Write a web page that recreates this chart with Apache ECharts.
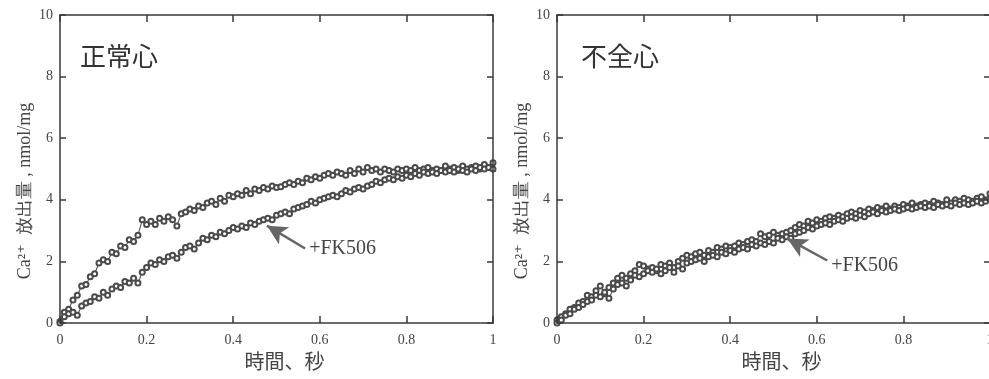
<!DOCTYPE html>
<html><head><meta charset="utf-8">
<script src="https://cdn.jsdelivr.net/npm/echarts@6/dist/echarts.min.js"></script>
<style>html,body{margin:0;padding:0;background:#fff}#c{width:989px;height:379px}</style>
</head><body><div id="c"></div>
<script>
// Time (s)
var times = [0,0.01,0.02,0.03,0.04,0.05,0.06,0.07,0.08,0.09,0.10,0.11,0.12,0.13,0.14,0.15,0.16,0.17,0.18,0.19,0.20,0.21,0.22,0.23,0.24,0.25,0.26,0.27,0.28,0.29,0.30,0.31,0.32,0.33,0.34,0.35,0.36,0.37,0.38,0.39,0.40,0.41,0.42,0.43,0.44,0.45,0.46,0.47,0.48,0.49,0.50,0.51,0.52,0.53,0.54,0.55,0.56,0.57,0.58,0.59,0.60,0.61,0.62,0.63,0.64,0.65,0.66,0.67,0.68,0.69,0.70,0.71,0.72,0.73,0.74,0.75,0.76,0.77,0.78,0.79,0.80,0.81,0.82,0.83,0.84,0.85,0.86,0.87,0.88,0.89,0.90,0.91,0.92,0.93,0.94,0.95,0.96,0.97,0.98,0.99,1.00];

// 正常心 control
var normalControl = [0.05,0.35,0.45,0.75,0.9,1.2,1.25,1.5,1.6,1.95,2.05,2.0,2.3,2.25,2.5,2.45,2.7,2.65,2.85,3.35,3.2,3.3,3.2,3.4,3.3,3.45,3.35,3.15,3.55,3.6,3.7,3.65,3.8,3.75,3.9,3.95,3.85,4.05,3.95,4.15,4.1,4.2,4.15,4.3,4.2,4.35,4.3,4.4,4.35,4.45,4.4,4.42,4.5,4.55,4.5,4.6,4.55,4.7,4.65,4.75,4.7,4.8,4.85,4.8,4.9,4.85,4.8,4.95,4.85,5.0,4.9,5.05,4.95,5.0,4.9,5.0,4.95,4.9,5.0,4.95,5.0,4.95,5.05,4.95,5.0,5.05,4.95,5.0,4.95,5.1,5.0,5.05,4.95,5.1,5.0,5.05,5.1,5.0,5.15,5.05,5.2];
// 正常心 +FK506
var normalFK506 = [0.0,0.2,0.3,0.35,0.25,0.55,0.65,0.7,0.85,0.8,1.0,0.9,1.1,1.2,1.15,1.35,1.3,1.45,1.3,1.65,1.8,1.95,1.9,2.05,2.0,2.15,2.2,2.1,2.3,2.45,2.5,2.4,2.6,2.75,2.7,2.85,2.8,2.95,2.9,3.0,3.1,3.05,3.15,3.1,3.25,3.2,3.3,3.35,3.4,3.35,3.5,3.55,3.6,3.55,3.7,3.75,3.8,3.85,3.95,3.9,4.0,4.05,4.1,4.15,4.1,4.2,4.3,4.25,4.35,4.4,4.35,4.45,4.5,4.6,4.55,4.65,4.7,4.65,4.75,4.7,4.8,4.75,4.85,4.8,4.9,4.85,4.9,4.85,4.95,4.9,4.95,4.9,5.0,4.95,4.9,5.0,4.95,5.05,5.0,5.05,5.0];
// 不全心 control
var failingControl = [0.1,0.2,0.3,0.45,0.5,0.65,0.7,0.9,0.85,1.05,1.2,0.95,1.15,1.3,1.45,1.55,1.45,1.6,1.7,1.9,1.85,1.75,1.8,1.7,1.9,1.85,1.95,1.8,2.0,2.1,2.2,2.15,2.25,2.3,2.2,2.35,2.3,2.45,2.4,2.5,2.45,2.5,2.6,2.55,2.65,2.7,2.65,2.9,2.8,2.85,2.95,2.85,2.9,2.95,3.0,3.1,3.2,3.15,3.3,3.25,3.35,3.3,3.4,3.45,3.4,3.5,3.45,3.55,3.6,3.55,3.65,3.6,3.7,3.65,3.75,3.7,3.8,3.7,3.8,3.75,3.85,3.8,3.9,3.8,3.85,3.9,3.85,3.95,3.9,3.85,4.0,3.9,4.0,3.95,4.05,4.0,3.95,4.05,4.1,4.0,4.2];
// 不全心 +FK506
var failingFK506 = [0.0,0.1,0.25,0.3,0.45,0.5,0.6,0.7,0.75,0.9,0.85,1.0,0.8,1.1,1.25,1.3,1.2,1.4,1.55,1.5,1.6,1.7,1.65,1.75,1.6,1.7,1.8,1.65,1.85,1.75,1.95,2.0,2.05,2.1,2.0,2.15,2.2,2.15,2.3,2.25,2.35,2.3,2.4,2.45,2.4,2.55,2.5,2.6,2.55,2.65,2.6,2.75,2.7,2.8,2.75,2.9,2.95,3.0,3.1,3.05,3.15,3.2,3.25,3.2,3.3,3.35,3.3,3.4,3.45,3.4,3.5,3.45,3.55,3.6,3.55,3.65,3.6,3.65,3.7,3.65,3.7,3.75,3.7,3.75,3.8,3.75,3.8,3.75,3.85,3.8,3.85,3.8,3.9,3.85,3.9,3.85,3.9,3.95,3.9,3.95,4.0];

var panelTitles = ['正常心','不全心'];
var xName = '時間、秒';
var yName = 'Ca²⁺  放出量 , nmol/mg';
var annotation = '+FK506';
// arrow annotation points [tail, head] in data units
var arrowLeft = [[0.566,2.42],[0.478,3.16]];
var arrowRight = [[0.624,2.03],[0.532,2.74]];

var serif = '"Liberation Serif","DejaVu Serif",serif';
var cjk = '"Noto Sans CJK JP","Noto Sans",sans-serif';
var axisColor = '#3a3a3a';
var labelColor = '#444';

function pairs(ys){ return times.map(function(t,i){ return [t, ys[i]]; }); }

var grids = [
  {left:60, top:15, width:433, height:308, outerBoundsMode:'none', containLabel:false},
  {left:557, top:15, width:433, height:308, outerBoundsMode:'none', containLabel:false}
];

var xAxes = [], yAxes = [], series = [];
grids.forEach(function(g, gi){
  xAxes.push({
    type:'value', gridIndex:gi, min:0, max:1, interval:0.2, position:'bottom',
    name:xName, nameLocation:'middle', nameGap:26,
    nameTextStyle:{fontFamily:cjk, fontSize:20, color:labelColor, padding:[0,0,0,16]},
    axisLine:{show:true, onZero:false, lineStyle:{color:axisColor, width:1.5}},
    axisTick:{show:true, inside:true, length:7, lineStyle:{color:axisColor, width:1.5}},
    axisLabel:{show:true, margin:10, fontFamily:serif, fontSize:14, color:labelColor,
      formatter:function(v){ return String(+v.toFixed(1)); }},
    splitLine:{show:false}, z:5
  });
  xAxes.push({
    type:'value', gridIndex:gi, min:0, max:1, interval:0.2, position:'top',
    axisLine:{show:true, onZero:false, lineStyle:{color:axisColor, width:1.5}},
    axisTick:{show:true, inside:true, length:7, lineStyle:{color:axisColor, width:1.5}},
    axisLabel:{show:false}, splitLine:{show:false}, z:5
  });
  yAxes.push({
    type:'value', gridIndex:gi, min:0, max:10, interval:2, position:'left',
    name:yName, nameLocation:'middle', nameGap:26, nameRotate:90,
    nameTextStyle:{fontFamily:serif, fontSize:18, color:labelColor, padding:[0,44,0,0]},
    axisLine:{show:true, onZero:false, lineStyle:{color:axisColor, width:1.5}},
    axisTick:{show:true, inside:true, length:6, lineStyle:{color:axisColor, width:1.5}},
    axisLabel:{show:true, margin:7, fontFamily:serif, fontSize:14, color:labelColor},
    splitLine:{show:false}, z:5
  });
  yAxes.push({
    type:'value', gridIndex:gi, min:0, max:10, interval:2, position:'right',
    axisLine:{show:true, onZero:false, lineStyle:{color:axisColor, width:1.5}},
    axisTick:{show:true, inside:true, length:6, lineStyle:{color:axisColor, width:1.5}},
    axisLabel:{show:false}, splitLine:{show:false}, z:5
  });
});

function dataSeries(gi, ys, extra){
  var s = {
    type:'line', xAxisIndex:gi*2, yAxisIndex:gi*2, data:pairs(ys),
    symbol:'emptyCircle', symbolSize:5, showSymbol:true,
    lineStyle:{color:'#555', width:1.1},
    itemStyle:{color:'#4a4a4a', borderWidth:1.1},
    animation:false, silent:true
  };
  if (extra) for (var k in extra) s[k] = extra[k];
  return s;
}
function arrowMarks(arrow, dy){
  return {
    markLine:{
      silent:true, animation:false,
      symbol:['none','arrow'], symbolSize:[15,20],
      lineStyle:{color:'#666', width:2.5, type:'solid'},
      label:{show:false},
      data:[[{coord:arrow[0]},{coord:arrow[1]}]]
    },
    markPoint:{
      silent:true, animation:false,
      data:[{coord:arrow[0], symbol:'circle', symbolSize:0.1,
        label:{show:true, position:'right', distance:4, offset:[0,dy], formatter:annotation,
          fontFamily:serif, fontSize:20, color:'#444'}}]
    }
  };
}

series.push(dataSeries(0, normalControl));
series.push(dataSeries(0, normalFK506, arrowMarks(arrowLeft, 0)));
series.push(dataSeries(1, failingControl));
series.push(dataSeries(1, failingFK506, arrowMarks(arrowRight, 5)));

var chart = echarts.init(document.getElementById('c'), null, {renderer:'canvas'});
chart.setOption({
  animation:false,
  backgroundColor:'#fff',
  title:[
    {text:panelTitles[0], left:75, top:38, textStyle:{fontFamily:cjk, fontSize:26, fontWeight:'normal', color:'#333'}},
    {text:panelTitles[1], left:576, top:38, textStyle:{fontFamily:cjk, fontSize:26, fontWeight:'normal', color:'#333'}}
  ],
  grid:grids,
  xAxis:xAxes,
  yAxis:yAxes,
  series:series
});
</script>
</body></html>
